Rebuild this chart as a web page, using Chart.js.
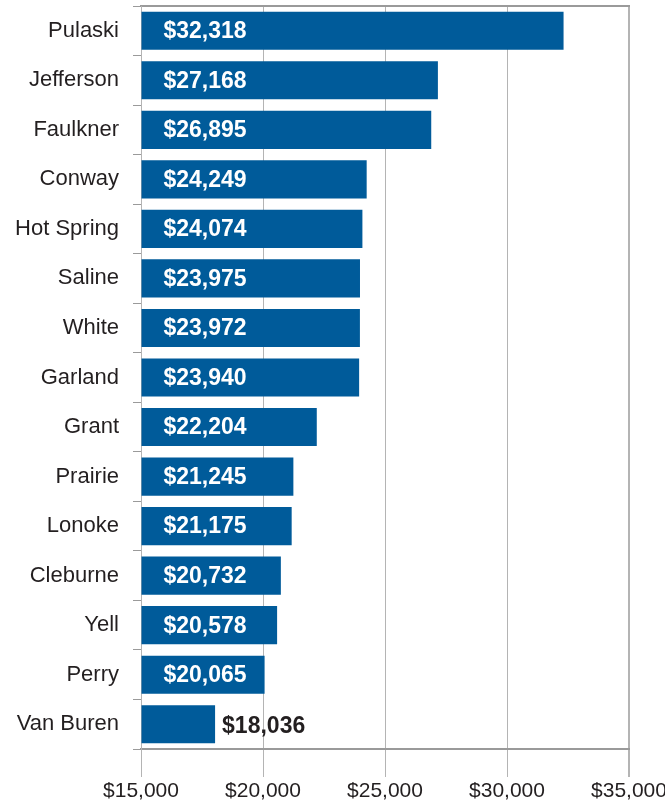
<!DOCTYPE html>
<html>
<head>
<meta charset="utf-8">
<script src="https://cdn.jsdelivr.net/npm/chart.js@4/dist/chart.umd.min.js"></script>
<style>
  html, body { margin: 0; padding: 0; background: #fff; }
</style>
</head>
<body>
<canvas id="chart" width="665" height="802"></canvas>
<script>
// Per-capita income by county
const counties = ['Pulaski', 'Jefferson', 'Faulkner', 'Conway', 'Hot Spring', 'Saline', 'White',
  'Garland', 'Grant', 'Prairie', 'Lonoke', 'Cleburne', 'Yell', 'Perry', 'Van Buren'];
const income = [32318, 27168, 26895, 24249, 24074, 23975, 23972, 23940, 22204, 21245, 21175,
  20732, 20578, 20065, 18036];
const xMin = 15000;
const xMax = 35000;
const xStep = 5000;

const money = v => '$' + v.toLocaleString('en-US');
const FONT = "'Liberation Sans', Arial, sans-serif";

// value labels: inside the bar in white, or just past its end when the bar is too short
const valueLabels = {
  id: 'valueLabels',
  afterDatasetsDraw(chart) {
    const ctx = chart.ctx;
    const meta = chart.getDatasetMeta(0);
    ctx.save();
    ctx.font = 'bold 23px ' + FONT;
    ctx.textBaseline = 'middle';
    ctx.textAlign = 'left';
    meta.data.forEach((bar, i) => {
      const txt = money(income[i]);
      const w = ctx.measureText(txt).width;
      if (bar.x - bar.base > w + 30) {
        ctx.fillStyle = '#ffffff';
        ctx.fillText(txt, bar.base + 22, bar.y + 1);
      } else {
        ctx.fillStyle = '#231f20';
        ctx.fillText(txt, bar.x + 7, bar.y + 2);
      }
    });
    ctx.restore();
  }
};

new Chart(document.getElementById('chart'), {
  type: 'bar',
  data: {
    labels: counties,
    datasets: [{
      data: income,
      base: xMin,
      backgroundColor: '#005b9a',
      borderWidth: 0,
      barPercentage: 0.77,
      categoryPercentage: 1
    }]
  },
  options: {
    indexAxis: 'y',
    responsive: false,
    animation: false,
    layout: { padding: { top: 6, right: 36, left: 0, bottom: 0 } },
    plugins: { legend: { display: false }, tooltip: { enabled: false } },
    scales: {
      x: {
        min: xMin,
        max: xMax,
        afterFit(s) { s.height = 53; s.paddingLeft = 0; s.paddingRight = 0; },
        ticks: {
          stepSize: xStep,
          padding: 2,
          color: '#231f20',
          font: { family: FONT, size: 21 },
          callback: v => money(v)
        },
        grid: {
          color: '#b4b4b4',
          lineWidth: c => (c.tick && c.tick.value === xMax ? 2 : 1),
          tickLength: 28
        },
        border: { color: '#9a9a9a', width: 2 }
      },
      // top edge of the plot frame
      xTop: {
        type: 'linear',
        position: 'top',
        min: xMin,
        max: xMax,
        afterFit(s) { s.height = 0; s.paddingLeft = 0; s.paddingRight = 0; },
        ticks: { display: false },
        grid: { display: false },
        border: { color: '#9a9a9a', width: 2 }
      },
      y: {
        afterFit(s) { s.width = 141; s.paddingTop = 0; s.paddingBottom = 0; },
        ticks: {
          padding: 14,
          color: '#231f20',
          font: { family: FONT, size: 22 }
        },
        grid: {
          drawOnChartArea: false,
          color: '#9a9a9a',
          tickLength: 8
        },
        border: { color: '#b4b4b4', width: 1 }
      }
    }
  },
  plugins: [valueLabels]
});
</script>
</body>
</html>
